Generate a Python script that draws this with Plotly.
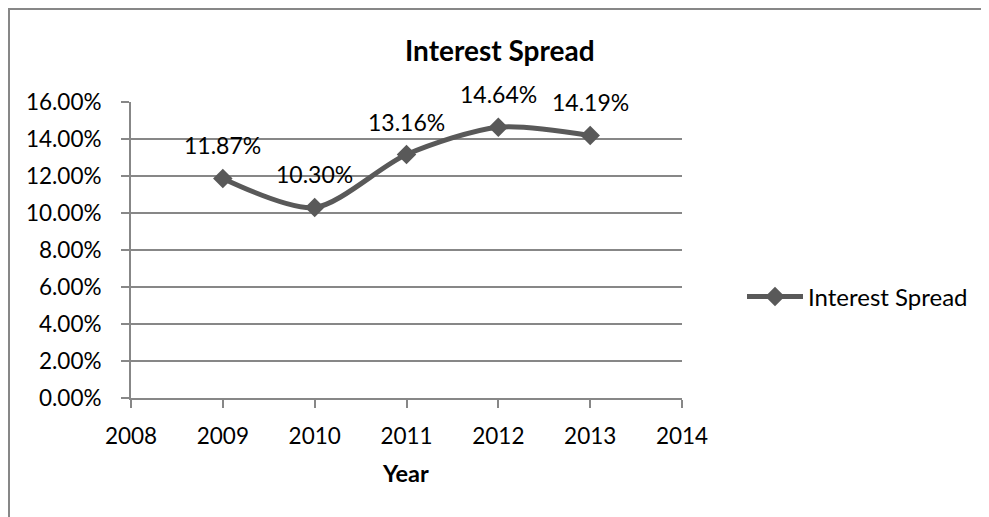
import plotly.graph_objects as go

years = [2009, 2010, 2011, 2012, 2013]
spread = [0.1187, 0.1030, 0.1316, 0.1464, 0.1419]
series_name = "Interest Spread"
chart_title = "Interest Spread"
x_title = "Year"

FONT = "Lato"
OFF = 8  # page body margin
W, H = 989 - OFF, 517 - OFF
L, R, T, B = 131 - OFF, 682 - OFF, 102 - OFF, 398 - OFF
pw, ph = R - L, B - T

def px(x):
    return (x - OFF - L) / pw

def py(y):
    return (B - (y - OFF)) / ph

line_color = "#595959"
grid_color = "#878787"

fig = go.Figure()
fig.add_trace(go.Scatter(
    x=years, y=spread, name=series_name, mode="lines+markers",
    line=dict(color=line_color, width=5, shape="spline", smoothing=0.8),
    marker=dict(symbol="diamond", size=15, color=line_color),
))

annotations = []
for xv, yv in zip(years, spread):
    annotations.append(dict(
        x=xv, y=yv, xref="x", yref="y", text=f"{yv*100:.2f}%",
        showarrow=False, yshift=33, font=dict(family=FONT, size=23, color="#000000"),
    ))
annotations.append(dict(
    x=px(500), y=py(50), xref="paper", yref="paper", text=f"<b>{chart_title}</b>",
    showarrow=False, xanchor="center", yanchor="middle",
    font=dict(family=FONT, size=28, color="#000000"),
))
annotations.append(dict(
    x=px(405), y=py(473), xref="paper", yref="paper", text=f"<b>{x_title}</b>",
    showarrow=False, xanchor="center", yanchor="middle",
    font=dict(family=FONT, size=23.5, color="#000000"),
))

fig.update_layout(
    width=W, height=H,
    margin=dict(l=L, r=W - R, t=T, b=H - B),
    paper_bgcolor="white", plot_bgcolor="white",
    font=dict(family=FONT, size=22.5, color="#000000"),
    showlegend=True,
    legend=dict(x=px(742), y=py(297), xanchor="left", yanchor="middle",
                itemwidth=56, font=dict(family=FONT, size=24, color="#000000"),
                bgcolor="rgba(0,0,0,0)", tracegroupgap=0),
    annotations=annotations,
    shapes=[dict(type="path", xref="paper", yref="paper",
                 path=f"M {px(9)},{py(700)} L {px(9)},{py(9)} L {px(1200)},{py(9)}",
                 line=dict(color=grid_color, width=2),
                 layer="below")],
    xaxis=dict(range=[2008, 2014], dtick=1, tick0=2008, showgrid=False,
               showline=True, linecolor=grid_color, linewidth=2,
               ticks="outside", ticklen=8, tickwidth=2, tickcolor=grid_color,
               zeroline=False, ticklabelstandoff=9, fixedrange=True),
    yaxis=dict(range=[0, 0.16], dtick=0.02, tickformat=".2%", showgrid=True,
               gridcolor=grid_color, gridwidth=1.5,
               showline=True, linecolor=grid_color, linewidth=2,
               ticks="outside", ticklen=8, tickwidth=2, tickcolor=grid_color,
               zeroline=False, ticklabelstandoff=15, fixedrange=True),
)

fig.write_html("out.html")
